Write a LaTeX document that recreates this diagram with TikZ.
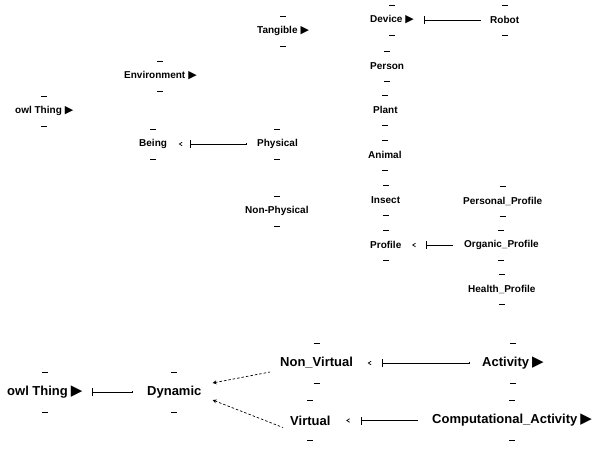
\documentclass[tikz,border=0pt]{standalone}
\usepackage{fontspec}
\setmainfont{Liberation Sans}
\newfontfamily\symfont{DejaVu Sans}
\usetikzlibrary{arrows.meta}
\tikzset{
  cls/.style={font=\bfseries\fontsize{10}{12}\selectfont, inner xsep=0pt, inner ysep=0pt, minimum height=30pt, anchor=west},
  clsb/.style={font=\bfseries\fontsize{13}{15}\selectfont, inner xsep=0pt, inner ysep=0pt, minimum height=40pt, anchor=west},
  link/.style={line width=0.8pt, {Bar[width=8pt,line width=0.8pt]}-{Bar[width=2.5pt]}},
  linkn/.style={line width=0.8pt, {Bar[width=8pt,line width=0.8pt]}-},
  isa/.style={dash pattern=on 2.5pt off 2pt, line width=0.7pt},
  tickmark/.style={line width=0.6pt},
}
\newcommand\tri[1]{\hspace{3pt}{\symfont\fontsize{#1}{#1}\selectfont ▶}}
\newcommand\chev[1]{\draw[line width=0.7pt] #1 ++(2,-1.8) -- ++(-2.8,1.8) -- ++(2.8,1.8);}
\begin{document}
\begin{tikzpicture}[x=1pt,y=-1pt]
\useasboundingbox (0,0) rectangle (593,456);
% top part
\node[cls] (thing1)  at (15,111)  {owl Thing\tri{11}};
\node[cls] (env)     at (124,76)  {Environment\tri{11}};
\node[cls] (tang)    at (257,31)  {Tangible\tri{11}};
\node[cls] (device)  at (370,20)  {Device\tri{11}};
\node[cls] (robot)   at (490,20)  {Robot};
\node[cls] (person)  at (370,66)  {Person};
\node[cls] (plant)   at (373,110) {Plant};
\node[cls] (animal)  at (368,155) {Animal};
\node[cls] (insect)  at (371,200) {Insect};
\node[cls] (profile) at (370,245) {Profile};
\node[cls] (pers)    at (463,201) {Personal\_Profile};
\node[cls] (org)     at (464,245) {Organic\_Profile};
\node[cls] (health)  at (468,289) {Health\_Profile};
\node[cls] (being)   at (139,144) {Being};
\node[cls] (phys)    at (257,144) {Physical};
\node[cls] (nonphys) at (245,211) {Non-Physical};
% bottom part
\node[clsb] (thing2) at (7,392)   {owl Thing\tri{15}};
\node[clsb] (dyn)    at (147,392) {Dynamic};
\node[clsb] (nonv)   at (280,363) {Non\_Virtual};
\node[clsb] (virt)   at (290,420.5) {Virtual};
\node[clsb] (act)    at (482,363) {Activity\tri{15}};
\node[clsb] (comp)   at (432,420.5) {Computational\_Activity\tri{15}};
% box remnants
\foreach \n in {thing1,env,tang,device,robot,person,plant,animal,insect,profile,pers,org,health,being,phys,nonphys,thing2,dyn,nonv,virt,act,comp}{
  \draw[tickmark] ([xshift=-3pt]\n.north) -- ([xshift=3pt]\n.north);
  \draw[tickmark] ([xshift=-3pt]\n.south) -- ([xshift=3pt]\n.south);
}
% connectors
\draw[link]  ([xshift=23pt]being.east) -- ([xshift=-10pt]phys.west);
\chev{([xshift=13pt]being.east)}
\draw[linkn] ([xshift=10pt]device.east) -- ([xshift=-9pt]robot.west);
\draw[linkn] ([xshift=24pt]profile.east) -- ([xshift=-11pt]org.west);
\chev{([xshift=12pt]profile.east)}
\draw[link]  ([xshift=9pt]thing2.east) -- ([xshift=-14pt]dyn.west);
\draw[link]  ([xshift=29pt]nonv.east) -- ([xshift=-12pt]act.west);
\chev{([xshift=16pt]nonv.east)}
\draw[linkn] ([xshift=30pt]virt.east) -- ([xshift=-14pt]comp.west);
\chev{([xshift=17pt]virt.east)}
\draw[isa, {Stealth[length=4pt,width=4pt]}-] ([xshift=11pt,yshift=9pt]dyn.east) -- ([xshift=-10pt,yshift=-9pt]nonv.west);
\draw[isa, {Stealth[open,length=4pt,width=4pt]}-] ([xshift=11pt,yshift=-8pt]dyn.east) -- ([xshift=-7pt,yshift=-7pt]virt.west);
\end{tikzpicture}
\end{document}
